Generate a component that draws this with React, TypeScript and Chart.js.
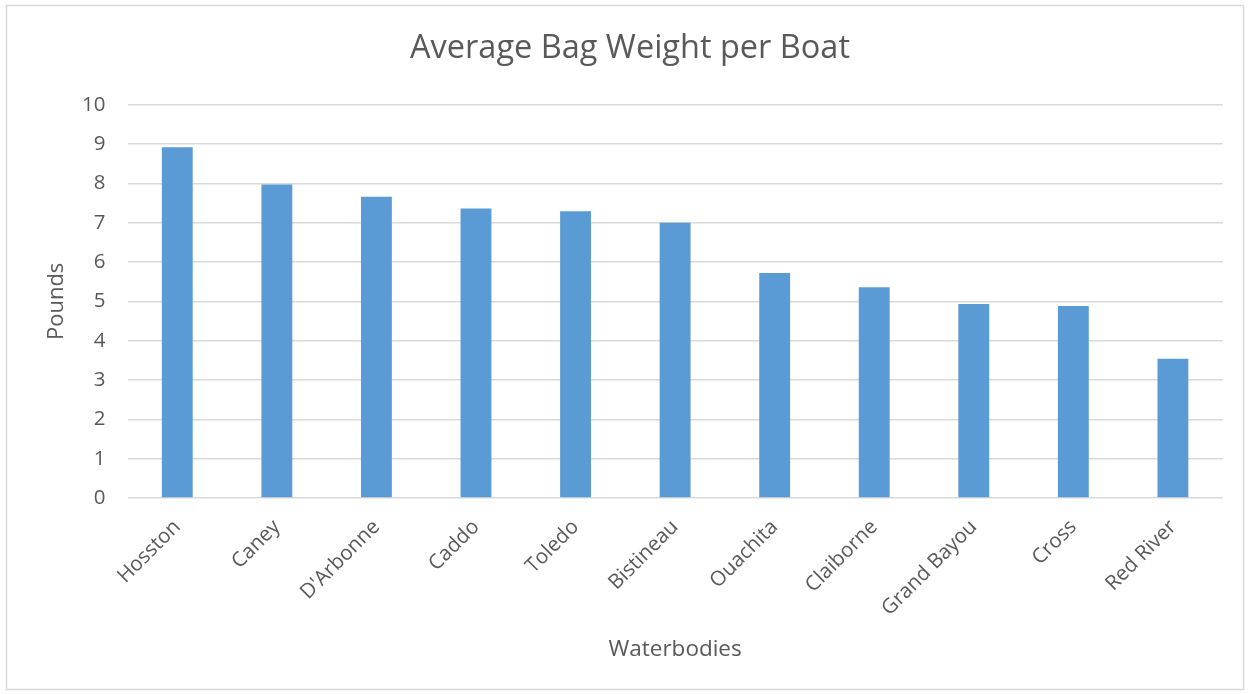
import React, { useEffect, useRef } from "react";
import { Chart, registerables } from "chart.js";

Chart.register(...registerables);

const categories: string[] = [
  "Hosston",
  "Caney",
  "D'Arbonne",
  "Caddo",
  "Toledo",
  "Bistineau",
  "Ouachita",
  "Claiborne",
  "Grand Bayou",
  "Cross",
  "Red River",
];

const avgBagWeight: number[] = [8.92, 7.97, 7.66, 7.36, 7.29, 7.0, 5.72, 5.36, 4.93, 4.88, 3.54];

const yTickValues: number[] = [0, 1, 2, 3, 4, 5, 6, 7, 8, 9, 10];

const chartTitle = "Average Bag Weight per Boat";
const yAxisTitle = "Pounds";
const xAxisTitle = "Waterbodies";

const FONT = "'Open Sans', 'DejaVu Sans', sans-serif";
const TEXT = "#595959";
const GRID = "#d9d9d9";

const frame = {
  id: "frame",
  beforeDraw(chart: any) {
    const { ctx, width, height } = chart;
    ctx.save();
    ctx.fillStyle = "#ffffff";
    ctx.fillRect(0, 0, width, height);
    ctx.strokeStyle = GRID;
    ctx.lineWidth = 1.5;
    ctx.strokeRect(6.5, 5.5, 1237, 684);
    ctx.restore();
  },
};

export default function App() {
  const ref = useRef<HTMLCanvasElement | null>(null);

  useEffect(() => {
    let chart: Chart | null = null;
    let cancelled = false;
    const make = () => {
      if (cancelled || !ref.current) return;
      chart = new Chart(ref.current, {
        type: "bar",
        data: {
          labels: categories,
          datasets: [
            {
              label: chartTitle,
              data: avgBagWeight,
              backgroundColor: "#5b9bd5",
              borderWidth: 0,
              barPercentage: 0.31,
              categoryPercentage: 1,
            },
          ],
        },
        options: {
          responsive: false,
          animation: false,
          devicePixelRatio: 1,
          layout: { padding: { left: 10, right: 0, top: 0, bottom: 0 } },
          plugins: {
            legend: { display: false },
            tooltip: { enabled: false },
            title: {
              display: true,
              text: chartTitle,
              color: TEXT,
              font: { family: FONT, size: 32.5, weight: "normal", lineHeight: 1.2 },
              padding: { top: 29, bottom: 36.7 },
            },
          },
          scales: {
            x: {
              grid: { display: false, drawTicks: false },
              border: { display: false },
              ticks: {
                color: TEXT,
                font: { family: FONT, size: 20.5 },
                maxRotation: 45,
                minRotation: 45,
                padding: 17,
                autoSkip: false,
              },
              title: {
                display: true,
                text: xAxisTitle,
                color: TEXT,
                font: { family: FONT, size: 22.5, lineHeight: 1.2 },
                padding: { top: 0, bottom: 30.5 },
              },
              afterFit(scale: any) {
                scale.height = 196;
              },
            },
            y: {
              min: 0,
              max: 10,
              afterBuildTicks(scale: any) {
                scale.ticks = yTickValues.map((v) => ({ value: v }));
              },
              grid: { color: GRID, lineWidth: 1.5, drawTicks: false },
              border: { display: false },
              ticks: {
                color: TEXT,
                font: { family: FONT, size: 20.5 },
                padding: 22,
              },
              title: {
                display: true,
                text: yAxisTitle,
                color: TEXT,
                font: { family: FONT, size: 22, lineHeight: 1.2 },
                padding: { top: 34, bottom: 0 },
              },
              afterFit(scale: any) {
                scale.width = 117.5;
              },
            },
            yRightSpace: {
              type: "linear",
              position: "right",
              display: true,
              grid: { display: false, drawTicks: false },
              border: { display: false },
              ticks: { display: false },
              afterFit(scale: any) {
                scale.width = 27.3;
              },
            },
          },
        },
        plugins: [frame],
      });
    };
    const fonts: any = (document as any).fonts;
    if (fonts && fonts.load) {
      Promise.all([
        fonts.load("20px 'Open Sans'"),
        fonts.load("32px 'Open Sans'"),
      ])
        .catch(() => undefined)
        .then(make);
    } else {
      make();
    }
    return () => {
      cancelled = true;
      if (chart) chart.destroy();
    };
  }, []);

  return (
    <div style={{ position: "absolute", left: 0, top: 0, width: 1250, height: 694 }}>
      <canvas ref={ref} width={1250} height={694} style={{ display: "block", width: 1250, height: 694 }} />
    </div>
  );
}
